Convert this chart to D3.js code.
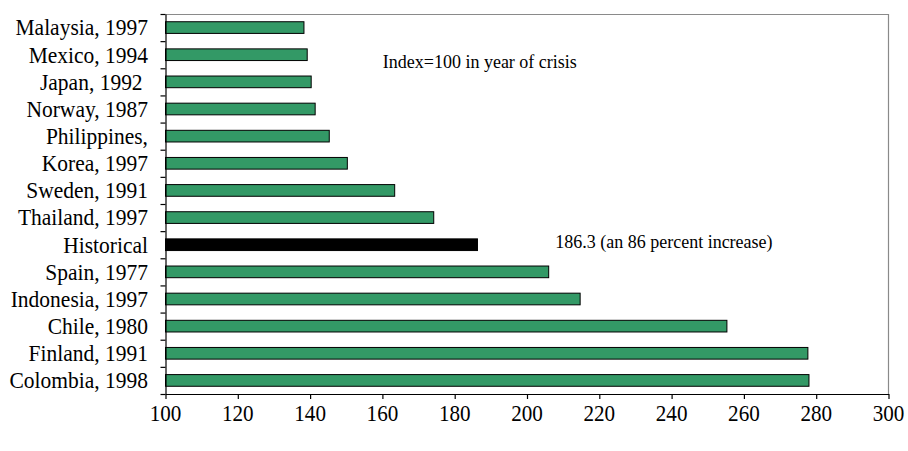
<!DOCTYPE html>
<html>
<head>
<meta charset="utf-8">
<script src="https://cdn.jsdelivr.net/npm/d3@7/dist/d3.min.js"></script>
<style>
  html, body { margin: 0; padding: 0; background: #fff; }
  svg { display: block; }
  text { font-family: "Liberation Serif", "Times New Roman", serif; fill: #000; }
</style>
</head>
<body>
<svg id="chart" width="908" height="451"></svg>
<script>
// ---- data ----
const categories = [
  "Malaysia, 1997", "Mexico, 1994", "Japan, 1992 ", "Norway, 1987", "Philippines,",
  "Korea, 1997", "Sweden, 1991", "Thailand, 1997", "Historical", "Spain, 1977",
  "Indonesia, 1997", "Chile, 1980", "Finland, 1991", "Colombia, 1998"
];
const values = [138.3, 139.2, 140.3, 141.4, 145.3, 150.3, 163.4, 174.2, 186.3, 206.0, 214.7, 255.3, 277.7, 278.0];
const highlight = "Historical";
const xTicks = [100, 120, 140, 160, 180, 200, 220, 240, 260, 280, 300];
const annotations = [
  { text: "Index=100 in year of crisis", value: 160.1, category: "Mexico, 1994", dy: 7.5 },
  { text: "186.3 (an 86 percent increase)", value: 207.8, category: "Historical", dy: -3 }
];

// ---- layout ----
const svg = d3.select("#chart");
const mLeft = 165.5, mRight = 888.5, mTop = 14, mBottom = 394;

const x = d3.scaleLinear().domain([100, 300]).range([mLeft, mRight]);
const y = d3.scaleBand().domain(categories).range([mTop, mBottom]).paddingInner(0.57).paddingOuter(0.285);
const yIdx = d3.scaleLinear().domain([0, categories.length]).range([mTop, mBottom]);

// frame (top & right in gray)
svg.append("line").attr("x1", mLeft).attr("x2", mRight).attr("y1", mTop + 0.5).attr("y2", mTop + 0.5)
  .attr("stroke", "#8a8a8a").attr("stroke-width", 1.2);
svg.append("line").attr("x1", mRight).attr("x2", mRight).attr("y1", mTop).attr("y2", mBottom)
  .attr("stroke", "#8a8a8a").attr("stroke-width", 1.2);

// bars
svg.append("g").selectAll("rect").data(categories).join("rect")
  .attr("x", x(100))
  .attr("y", d => y(d))
  .attr("width", (d, i) => x(values[i]) - x(100))
  .attr("height", y.bandwidth())
  .attr("fill", d => d === highlight ? "#000" : "#339966")
  .attr("stroke", "#000")
  .attr("stroke-width", 1);

// left axis (ticks at category boundaries)
const gLeft = svg.append("g").attr("transform", `translate(${mLeft},0)`)
  .call(d3.axisLeft(yIdx).tickValues(d3.range(categories.length + 1)).tickFormat("").tickSize(5).tickSizeOuter(0));
gLeft.selectAll("path,line").attr("stroke", "#000").attr("stroke-width", 1.2);

// category labels
svg.append("g").selectAll("text").data(categories).join("text")
  .attr("transform", d => `translate(148,${y(d) + y.bandwidth() / 2 + 7.8}) scale(0.935,1)`)
  .attr("text-anchor", "end")
  .style("white-space", "pre")
  .attr("font-size", 23)
  .text(d => d);

// bottom axis
const gBottom = svg.append("g").attr("transform", `translate(0,${mBottom})`)
  .call(d3.axisBottom(x).tickValues(xTicks).tickFormat("").tickSize(5).tickSizeOuter(0));
gBottom.selectAll("path,line").attr("stroke", "#000").attr("stroke-width", 1.2);

svg.append("g").selectAll("text").data(xTicks).join("text")
  .attr("transform", d => `translate(${x(d)},420.5) scale(0.88,1)`)
  .attr("text-anchor", "middle")
  .attr("font-size", 24)
  .text(d => d3.format("d")(d));

// annotations
svg.append("g").selectAll("text").data(annotations).join("text")
  .attr("x", d => x(d.value))
  .attr("y", d => y(d.category) + y.bandwidth() / 2 + 6 + d.dy)
  .attr("font-size", 18)
  .attr("text-anchor", "start")
  .text(d => d.text);
</script>
</body>
</html>
